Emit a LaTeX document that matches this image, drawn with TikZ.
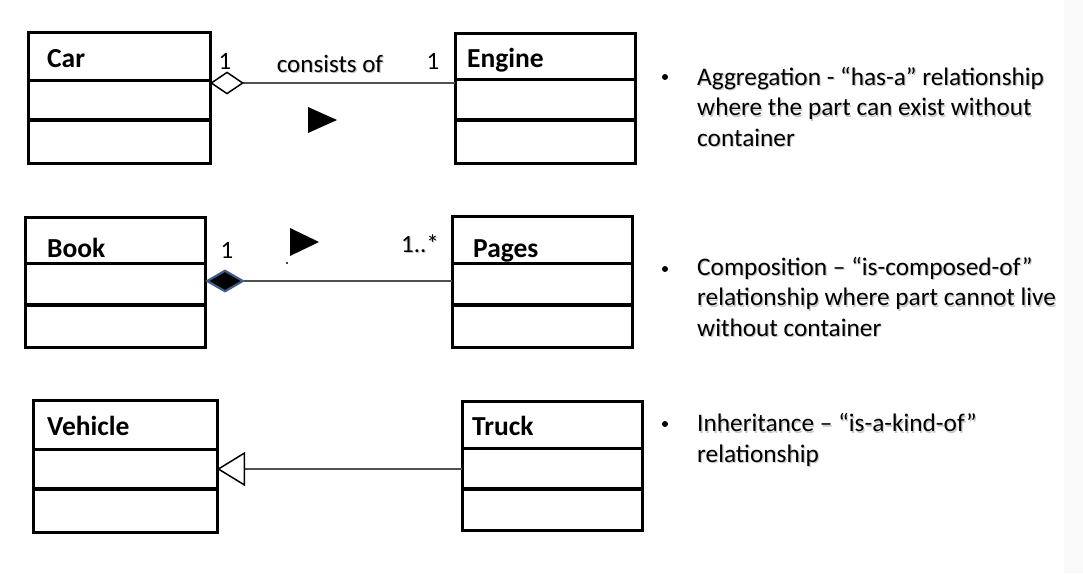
\documentclass[tikz,border=0pt]{standalone}
\usepackage{fontspec}
\setmainfont{Carlito}
\usetikzlibrary{arrows.meta,calc}
\definecolor{diamondblue}{HTML}{3E5C86}
\definecolor{connector}{HTML}{505050}
\definecolor{shadowgray}{HTML}{C8C8C8}
\tikzset{
  classbox/.style={draw, line width=3pt, inner sep=0pt, outer sep=0pt, rectangle},
  divider/.style={line width=3pt},
  dividertwo/.style={line width=4pt},
  classname/.style={font=\fontsize{27.5}{32}\selectfont\bfseries, anchor=base west, inner sep=0pt},
  assoc/.style={draw=connector, line width=1.3pt},
  mult/.style={font=\fontsize{25}{30}\selectfont, anchor=base, inner sep=0pt},
  bullettext/.style={font=\fontsize{25.3}{30.5}\selectfont, align=left, anchor=base west, inner sep=0pt},
  bulletmark/.style={circle, fill=black, inner sep=0pt, minimum size=6pt},
  shadow/.style={text=shadowgray, xshift=1.2pt, yshift=-1.8pt},
}
\newcommand\umlclass[7]{%
  \node[classbox, minimum width={#4-#2}, minimum height={#5-#3}] (#1) at ({(#2+#4)/2},{(#3+#5)/2}) {};
  \draw[divider] (#2,#6) -- (#4,#6);
  \draw[dividertwo] (#2,#7) -- (#4,#7);
}
\begin{document}
\begin{tikzpicture}[x=1pt,y=-1pt]
\useasboundingbox (0,0) rectangle (1083,573);
\fill[gray!5] (1064,0) rectangle (1083,573);

% classes
\umlclass{car}{28}{32}{210}{163}{80}{120}
\umlclass{engine}{455}{33}{635}{163}{79}{120}
\umlclass{book}{25}{217}{205}{347}{263}{305}
\umlclass{pages}{452}{216}{632}{347}{263}{305}
\umlclass{vehicle}{33}{400}{217}{532}{449}{489}
\umlclass{truck}{462}{401}{642}{530}{448}{489}

\node[classname] (carname) at (47,67) {Car};
\node[classname] (enginename) at (467,67) {Engine};
\node[classname] (bookname) at (47,257) {Book};
\node[classname] (pagesname) at (473,257) {Pages};
\node[classname] (vehiclename) at (47,435) {Vehicle};
\node[classname] (truckname) at (472,435) {Truck};

% connectors
\coordinate (ya) at (0,83);
\coordinate (yc) at (0,281);
\coordinate (yi) at (0,469);
\draw[assoc, {Diamond[open, length=34pt, width=23pt, line width=1.5pt, color=black]}-]
  (car.east |- ya) -- (engine.west |- ya);
\draw[assoc, {Diamond[length=40pt, width=23pt, line width=2.2pt, color=diamondblue, fill=black]}-]
  (book.east |- yc) -- (pages.west |- yc);
\draw[assoc, {Triangle[open, length=28pt, width=34pt, line width=1.5pt, color=black]}-]
  (vehicle.east |- yi) -- (truck.west |- yi);

% reading-direction triangles
\fill (308,107) -- (337,120) -- (308,133) -- cycle;
\fill (290,228) -- (319,242) -- (290,256) -- cycle;
\fill (287,263) circle (1.2);

% multiplicities and labels
\node[mult, shadow] (lab1s) at (330,72) {consists of};
\node[mult, shadow] (m4s) at (420,252) {1..*};
\node[mult] (m1) at (225,69) {1};
\node[mult] (lab1) at (330,72) {consists of};
\node[mult] (m2) at (433,69) {1};
\node[mult] (m3) at (227,258) {1};
\node[mult] (m4) at (420,252) {1..*};

% bullet texts (anchored at the baseline of their last line)
\node[bullettext, shadow] (t1s) at (697,146) {Aggregation - “has-a” relationship\\where the part can exist without\\container};
\node[bullettext, shadow] (t2s) at (697,336) {Composition – “is-composed-of”\\relationship where part cannot live\\without container};
\node[bullettext, shadow] (t3s) at (697,462) {Inheritance – “is-a-kind-of”\\relationship};
\node[bulletmark] (b1) at (665,77) {};
\node[bullettext] (t1) at (697,146) {Aggregation - “has-a” relationship\\where the part can exist without\\container};
\node[bulletmark] (b2) at (665,269) {};
\node[bullettext] (t2) at (697,336) {Composition – “is-composed-of”\\relationship where part cannot live\\without container};
\node[bulletmark] (b3) at (665,424) {};
\node[bullettext] (t3) at (697,462) {Inheritance – “is-a-kind-of”\\relationship};
\end{tikzpicture}
\end{document}
